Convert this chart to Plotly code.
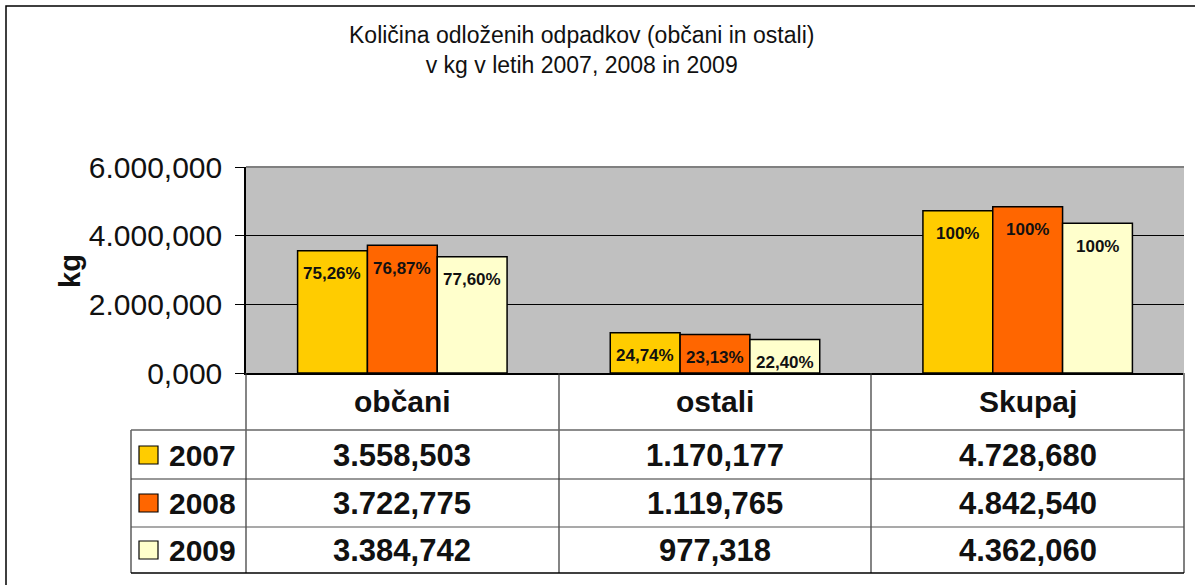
import plotly.graph_objects as go

# ---------------- data ----------------
categories = ["občani", "ostali", "Skupaj"]
years = ["2007", "2008", "2009"]
values_2007 = [3558503, 1170177, 4728680]
values_2008 = [3722775, 1119765, 4842540]
values_2009 = [3384742, 977318, 4362060]
pct_2007 = ["75,26%", "24,74%", "100%"]
pct_2008 = ["76,87%", "23,13%", "100%"]
pct_2009 = ["77,60%", "22,40%", "100%"]
tick_vals = [0, 2000000, 4000000, 6000000]
tick_text = ["0,000", "2.000,000", "4.000,000", "6.000,000"]
title_lines = ["Količina odloženih odpadkov (občani in ostali)", "v kg v letih 2007, 2008 in 2009"]
y_title = "kg"

series_values = [values_2007, values_2008, values_2009]
series_pct = [pct_2007, pct_2008, pct_2009]
colors = ["#FFCC00", "#FF6600", "#FFFFCC"]

# ---------------- layout geometry (pixels) ----------------
W, H = 1195, 585
PL, PR, PT, PB = 246, 1184, 167, 373  # plot area
pw, ph = PR - PL, PB - PT


def px(x):
    return (x - PL) / pw


def py(y):
    return (PB - y) / ph


def fmt(v):
    s = f"{v:,}"
    head, _, tail = s.rpartition(",")
    if head:
        return head.replace(",", ".") + "," + tail
    return tail


FONT = "Liberation Sans, Arial, sans-serif"

fig = go.Figure()
for yr, vals, col in zip(years, series_values, colors):
    fig.add_trace(go.Bar(
        x=categories, y=vals, name=yr,
        marker=dict(color=col, line=dict(color="#000000", width=1.5)),
        showlegend=False, hoverinfo="skip",
    ))

annotations = []
# percentage labels inside bars
offsets = [-70, 0, 70]
for vals, pcts, off in zip(series_values, series_pct, offsets):
    for c, v, p in zip(categories, vals, pcts):
        annotations.append(dict(
            x=c, y=v, xref="x", yref="y", text=f"<b>{p}</b>", showarrow=False,
            xshift=off, yshift=-23, yanchor="middle",
            font=dict(family=FONT, size=17, color="#111111"),
        ))

# title
annotations.append(dict(
    x=px(581), y=py(50), xref="paper", yref="paper",
    text="<br>".join(title_lines), showarrow=False, yanchor="middle",
    font=dict(family=FONT, size=23, color="#111111"),
))
# y axis title
annotations.append(dict(
    x=px(52), y=py(271), xref="paper", yref="paper", text=f"<b>{y_title}</b>",
    showarrow=False, textangle=-90, font=dict(family=FONT, size=29, color="#111111"),
))

# table header and values
header_y = 401
row_ys = [455, 503, 550]
for c in categories:
    annotations.append(dict(
        x=c, y=py(header_y), xref="x", yref="paper", text=f"<b>{c}</b>",
        showarrow=False, yanchor="middle", font=dict(family=FONT, size=30, color="#111111"),
    ))
for yr, vals, col, ry in zip(years, series_values, colors, row_ys):
    for c, v in zip(categories, vals):
        annotations.append(dict(
            x=c, y=py(ry), xref="x", yref="paper", text=f"<b>{fmt(v)}</b>",
            showarrow=False, yanchor="middle", font=dict(family=FONT, size=31, color="#111111"),
        ))
    annotations.append(dict(
        x=px(167), y=py(ry), xref="paper", yref="paper", text=f"<b>{yr}</b>",
        showarrow=False, xanchor="left", yanchor="middle",
        font=dict(family=FONT, size=30, color="#111111"),
    ))

shapes = []
# outer border
shapes.append(dict(type="rect", xref="paper", yref="paper",
                   x0=px(6), x1=px(1210), y0=py(6), y1=py(600),
                   line=dict(color="#000000", width=1.5), layer="below"))
# plot area top/right border (gray)
shapes.append(dict(type="line", xref="paper", yref="paper", x0=0, x1=1, y0=1, y1=1,
                   line=dict(color="#808080", width=2)))
shapes.append(dict(type="line", xref="paper", yref="paper", x0=1, x1=1, y0=0, y1=py(573),
                   line=dict(color="#808080", width=2)))
# table lines
for xl in [246, 559, 871]:
    shapes.append(dict(type="line", xref="paper", yref="paper", x0=px(xl), x1=px(xl),
                       y0=0, y1=py(573), line=dict(color="#333333", width=1.2)))
shapes.append(dict(type="line", xref="paper", yref="paper", x0=px(131), x1=px(131),
                   y0=py(430), y1=py(573), line=dict(color="#333333", width=1.2)))
for yl, colr, wd in [(430, "#666666", 1.5), (479, "#333333", 1.2), (527, "#555555", 1.2), (573, "#000000", 1.5)]:
    shapes.append(dict(type="line", xref="paper", yref="paper", x0=px(131), x1=1,
                       y0=py(yl), y1=py(yl), line=dict(color=colr, width=wd)))
# legend keys
for col, ry in zip(colors, row_ys):
    shapes.append(dict(type="rect", xref="paper", yref="paper",
                       x0=px(139), x1=px(158), y0=py(ry + 9), y1=py(ry - 9),
                       fillcolor=col, line=dict(color="#000000", width=1.2)))

fig.update_layout(
    width=W, height=H,
    margin=dict(l=PL, r=W - PR, t=PT, b=H - PB, pad=0),
    paper_bgcolor="#FFFFFF", plot_bgcolor="#C0C0C0",
    barmode="group", bargap=0.33, bargroupgap=0,
    annotations=annotations, shapes=shapes,
    font=dict(family=FONT, color="#111111"),
    xaxis=dict(showticklabels=False, showgrid=False, ticks="", showline=True,
               linecolor="#000000", linewidth=1.5, fixedrange=True),
    yaxis=dict(range=[0, 6000000], tickvals=tick_vals, ticktext=tick_text,
               ticks="outside", ticklen=9, tickcolor="#000000", tickwidth=1,
               ticklabelstandoff=7,
               showgrid=True, gridcolor="#000000", gridwidth=1,
               showline=True, linecolor="#000000", linewidth=1.5,
               tickfont=dict(family=FONT, size=30, color="#111111"),
               zeroline=False, fixedrange=True),
)

fig.write_html("out.html", config={"displayModeBar": False},
               post_script="document.body.style.margin='0';document.body.style.overflow='hidden';")
